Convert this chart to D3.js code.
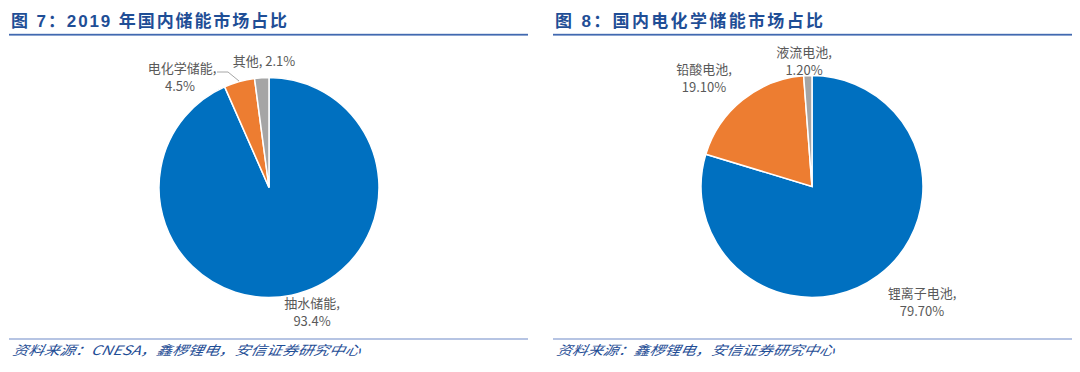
<!DOCTYPE html>
<html><head><meta charset="utf-8">
<script src="https://cdn.jsdelivr.net/npm/d3@7"></script>
<style>body{margin:0;background:#fff}svg{display:block}</style>
</head><body>
<svg id="c" width="1080" height="372"></svg>
<script>
const leftTitle = "图 7：2019 年国内储能市场占比";
const leftSource = "资料来源：CNESA，鑫椤锂电，安信证券研究中心";
const leftCategories = ["抽水储能", "电化学储能", "其他"];
const leftValues = [93.4, 4.5, 2.1];
const leftLabels = ["93.4%", "4.5%", "2.1%"];

const rightTitle = "图 8：国内电化学储能市场占比";
const rightSource = "资料来源：鑫椤锂电，安信证券研究中心";
const rightCategories = ["锂离子电池", "铅酸电池", "液流电池"];
const rightValues = [79.7, 19.1, 1.2];
const rightLabels = ["79.70%", "19.10%", "1.20%"];

const colors = ["#0070C0", "#ED7D31", "#A5A5A5"];
const svg = d3.select("#c");
const font = "'Noto Sans CJK SC', 'Noto Sans', sans-serif";
const titleFont = "'Liberation Sans', 'Noto Sans CJK SC', sans-serif";

function panel(x0, title, titleW, source, sourceW, cats, vals, labs, cx, cy, r, labelPos, leader) {
  const g = svg.append("g");
  g.append("text").attr("x", x0 + 2).attr("y", 27).text(title)
    .attr("font-family", titleFont).attr("font-weight", "bold").attr("font-size", 17)
    .attr("fill", "#1F4E96").attr("textLength", titleW).attr("lengthAdjust", "spacing");
  g.append("rect").attr("x", x0).attr("y", 33.8).attr("width", 519).attr("height", 1.8).attr("fill", "#4169B0");
  g.append("rect").attr("x", x0).attr("y", 338.5).attr("width", 519).attr("height", 1).attr("fill", "#6E8AC8");
  g.append("text").attr("x", x0 + 3).attr("y", 355).text(source)
    .attr("font-family", font).attr("font-style", "italic").attr("font-size", 13)
    .attr("fill", "#1F4E96").attr("textLength", sourceW).attr("lengthAdjust", "spacingAndGlyphs")
    .attr("transform", `skewX(-12) translate(${355*Math.tan(12*Math.PI/180)},0)`);

  const pie = d3.pie().sort(null).value(d => d)(vals);
  const arc = d3.arc().innerRadius(0).outerRadius(r);
  const pg = g.append("g").attr("transform", `translate(${cx},${cy})`);
  pg.selectAll("path").data(pie).join("path")
    .attr("d", arc).attr("fill", (d, i) => colors[i])
    .attr("stroke", "#fff").attr("stroke-width", 1.5);

  if (leader) {
    g.append("polyline").attr("points", leader.map(p => p.join(",")).join(" "))
      .attr("fill", "none").attr("stroke", "#A6A6A6").attr("stroke-width", 1);
  }
  labelPos.forEach((p, i) => {
    const t = g.append("text").attr("font-family", font).attr("font-size", 13)
      .attr("fill", "#595959").attr("text-anchor", p.anchor || "middle");
    if (p.single) {
      t.attr("x", p.x).attr("y", p.y).text(cats[i] + ", " + labs[i]);
    } else {
      t.append("tspan").attr("x", p.x).attr("y", p.y).text(cats[i] + ",");
      t.append("tspan").attr("x", p.x2 !== undefined ? p.x2 : p.x).attr("y", p.y + 18).text(labs[i]);
    }
  });
}

panel(9, leftTitle, 276, leftSource, 348, leftCategories, leftValues, leftLabels,
  269, 187.5, 110,
  [{x: 312, y: 308}, {x: 182, y: 73, x2: 180}, {x: 264, y: 66, single: true}],
  [[217, 72], [228, 72], [239, 81]]);

panel(553, rightTitle, 268, rightSource, 278, rightCategories, rightValues, rightLabels,
  812, 186.5, 111,
  [{x: 922, y: 298}, {x: 704, y: 74}, {x: 804, y: 57}],
  null);
</script>
</body></html>
